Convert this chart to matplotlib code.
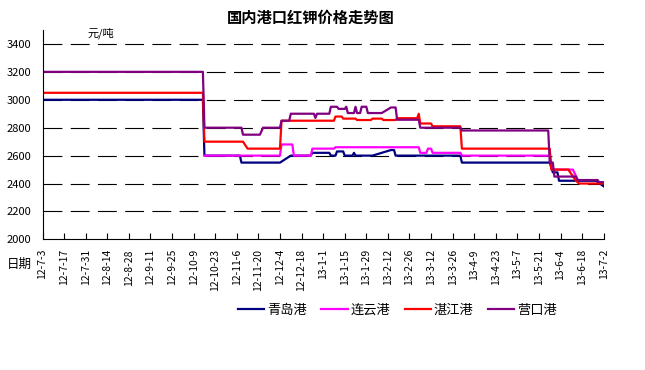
import pandas as pd
import matplotlib
matplotlib.use('Agg')
import matplotlib.pyplot as plt

plt.rcParams['font.family'] = ['Noto Sans CJK SC', 'DejaVu Sans']

# x tick labels (every two weeks)
tick_labels = ['12-7-3', '12-7-17', '12-7-31', '12-8-14', '12-8-28', '12-9-11', '12-9-25',
               '12-10-9', '12-10-23', '12-11-6', '12-11-20', '12-12-4', '12-12-18',
               '13-1-1', '13-1-15', '13-1-29', '13-2-12', '13-2-26', '13-3-12', '13-3-26',
               '13-4-9', '13-4-23', '13-5-7', '13-5-21', '13-6-4', '13-6-18', '13-7-2']

# 青岛港
qd_dates = ['12-7-3', '12-10-15', '12-10-16', '12-11-8', '12-11-9', '12-12-4', '12-12-11',
            '12-12-24', '12-12-25', '13-1-5', '13-1-6', '13-1-9', '13-1-10', '13-1-14',
            '13-1-15', '13-1-20', '13-1-21', '13-1-22', '13-2-2', '13-2-14', '13-2-16',
            '13-2-17', '13-3-31', '13-4-1', '13-5-28', '13-5-30', '13-6-2', '13-6-3',
            '13-6-27', '13-7-2']
qd_vals = [3000, 3000, 2600, 2600, 2550, 2550, 2600,
           2600, 2620, 2620, 2600, 2600, 2630, 2630,
           2600, 2600, 2620, 2600, 2600, 2640, 2640,
           2600, 2600, 2550, 2550, 2480, 2480, 2420,
           2420, 2380]

# 连云港
ly_dates = ['12-10-16', '12-12-4', '12-12-5', '12-12-12', '12-12-13', '12-12-24', '12-12-25',
            '13-1-8', '13-1-9', '13-3-4', '13-3-5', '13-3-9', '13-3-10', '13-3-12', '13-3-13',
            '13-3-31', '13-4-1', '13-5-28', '13-5-30', '13-6-12', '13-6-15']
ly_vals = [2600, 2600, 2680, 2680, 2600, 2600, 2650,
           2650, 2660, 2660, 2620, 2620, 2650, 2650, 2620,
           2620, 2600, 2600, 2500, 2500, 2430]

# 湛江港
zj_dates = ['12-7-3', '12-10-15', '12-10-16', '12-11-10', '12-11-13', '12-12-4', '12-12-5',
            '13-1-8', '13-1-9', '13-1-13', '13-1-14', '13-1-22', '13-1-23', '13-2-1',
            '13-2-2', '13-2-8', '13-2-9', '13-2-17', '13-2-18', '13-3-3', '13-3-4',
            '13-3-5', '13-3-12', '13-3-13', '13-3-31', '13-4-1', '13-5-28', '13-5-29',
            '13-6-9', '13-6-14', '13-6-16', '13-7-2']
zj_vals = [3050, 3050, 2700, 2700, 2650, 2650, 2850,
           2850, 2880, 2880, 2865, 2865, 2855, 2855,
           2865, 2865, 2855, 2855, 2868, 2868, 2900,
           2830, 2830, 2810, 2810, 2650, 2650, 2500,
           2500, 2420, 2400, 2400]

# 营口港
yk_dates = ['12-7-3', '12-10-15', '12-10-16', '12-11-9', '12-11-10', '12-11-21', '12-11-23',
            '12-12-4', '12-12-5', '12-12-10', '12-12-11', '12-12-26', '12-12-27', '12-12-28',
            '13-1-5', '13-1-6', '13-1-10', '13-1-11', '13-1-15', '13-1-16', '13-1-17',
            '13-1-21', '13-1-22', '13-1-23', '13-1-25', '13-1-26', '13-1-29', '13-1-30',
            '13-2-8', '13-2-14', '13-2-17', '13-2-18', '13-3-4', '13-3-5', '13-3-31',
            '13-4-1', '13-5-27', '13-5-28', '13-5-30', '13-5-31', '13-6-14', '13-6-15',
            '13-6-28', '13-6-29', '13-7-2']
yk_vals = [3200, 3200, 2800, 2800, 2750, 2750, 2800,
           2800, 2850, 2850, 2900, 2900, 2870, 2900,
           2900, 2950, 2950, 2935, 2935, 2950, 2905,
           2905, 2950, 2905, 2905, 2950, 2950, 2905,
           2905, 2945, 2945, 2857, 2857, 2800, 2800,
           2780, 2780, 2550, 2550, 2450, 2450, 2425,
           2425, 2410, 2410]

series = [('青岛港', qd_dates, qd_vals, '#000080'),
          ('连云港', ly_dates, ly_vals, '#FF00FF'),
          ('湛江港', zj_dates, zj_vals, '#FF0000'),
          ('营口港', yk_dates, yk_vals, '#800080')]


def to_dt(lst):
    return pd.to_datetime(lst, format='%y-%m-%d')


fig = plt.figure(figsize=(6.45, 3.70), dpi=100)
ax = fig.add_axes([0.066, 0.353, 0.870, 0.566])

for name, d, v, c in series:
    ax.plot(to_dt(d), v, color=c, lw=1.6, label=name)

ticks = to_dt(tick_labels)
ax.set_xlim(ticks[0], ticks[-1])
ax.set_ylim(2000, 3500)
ax.set_yticks(range(2000, 3401, 200))
ax.set_xticks(ticks)
ax.set_xticklabels(tick_labels, rotation=90, fontsize=7.5)
ax.tick_params(axis='x', direction='in', length=4, width=0.8, pad=7)
ax.tick_params(axis='y', length=0, labelsize=8, pad=8)

for y in range(2200, 3401, 200):
    ax.axhline(y, color='black', lw=0.8, ls=(0, (17, 7.5)), zorder=0)

for s in ['top', 'right']:
    ax.spines[s].set_visible(False)
ax.spines['left'].set_linewidth(0.8)
ax.spines['bottom'].set_linewidth(0.8)

fig.text(0.482, 0.953, '国内港口红钾价格走势图', ha='center', va='center',
         fontsize=11, fontweight='bold')
fig.text(0.156, 0.91, '元/吨', ha='center', va='center', fontsize=8)
fig.text(0.03, 0.285, '日期', ha='center', va='center', fontsize=9)

fig.legend(loc='center', bbox_to_anchor=(0.616, 0.162), ncol=4, frameon=False,
           fontsize=9.5, handlelength=2.0, handletextpad=0.2, columnspacing=1.1)

fig.savefig('out.png', dpi=100)
